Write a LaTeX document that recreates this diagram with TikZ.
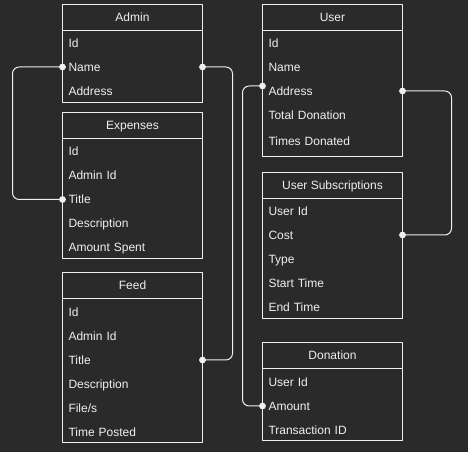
\documentclass[tikz,border=0pt]{standalone}
\usepackage{fontspec}
\setmainfont{Liberation Sans}
\usetikzlibrary{arrows.meta}
\definecolor{bgdark}{HTML}{2A2A2A}
\definecolor{fgline}{HTML}{F0F0F0}
\begin{document}
\begin{tikzpicture}[x=0.75pt,y=-0.75pt,line join=bevel,
  every node/.style={text=fgline,font=\fontsize{9}{11}\selectfont,text height=6.4pt,text depth=0pt},
  tabhead/.style={draw=fgline,line width=0.75pt,outer sep=0pt,minimum width=105pt,minimum height=19.5pt},
  tabbody/.style={draw=fgline,line width=0.75pt,outer sep=0pt,minimum width=105pt},
  tabrow/.style={outer sep=0pt,inner xsep=4.5pt,inner ysep=0pt,text width=96pt,align=left},
  link/.style={draw=fgline,line width=0.75pt,rounded corners=5pt,
    {Circle[length=5pt]}-{Circle[length=5pt]},shorten <=-2.5pt,shorten >=-2.5pt}]
\fill[bgdark] (0,0) rectangle (468,452);
%%
% Admin
\node (admin_head) at (132.5,17.5) [tabhead] {Admin};
\node (admin_body) at (132.5,66.5) [tabbody,minimum height=54pt] {};
\node (admin_id) at (132.5,43) [tabrow] {Id};
\node (admin_name) at (132.5,67) [tabrow] {Name};
\node (admin_address) at (132.5,91) [tabrow] {Address};
% Expenses
\node (expenses_head) at (132.5,125.5) [tabhead] {Expenses};
\node (expenses_body) at (132.5,198.5) [tabbody,minimum height=90pt] {};
\node (expenses_id) at (132.5,151.5) [tabrow] {Id};
\node (expenses_adminid) at (132.5,175.5) [tabrow] {Admin Id};
\node (expenses_title) at (132.5,199.5) [tabrow] {Title};
\node (expenses_desc) at (132.5,223.5) [tabrow] {Description};
\node (expenses_amount) at (132.5,247.5) [tabrow] {Amount Spent};
% Feed
\node (feed_head) at (132.5,285.5) [tabhead] {Feed};
\node (feed_body) at (132.5,370.5) [tabbody,minimum height=108pt] {};
\node (feed_id) at (132.5,312) [tabrow] {Id};
\node (feed_adminid) at (132.5,336) [tabrow] {Admin Id};
\node (feed_title) at (132.5,360) [tabrow] {Title};
\node (feed_desc) at (132.5,384) [tabrow] {Description};
\node (feed_files) at (132.5,408) [tabrow] {File/s};
\node (feed_posted) at (132.5,432) [tabrow] {Time Posted};
% User
\node (user_head) at (332.5,17.5) [tabhead] {User};
\node (user_body) at (332.5,93.5) [tabbody,minimum height=94.5pt] {};
\node (user_id) at (332.5,43) [tabrow] {Id};
\node (user_name) at (332.5,67) [tabrow] {Name};
\node (user_address) at (332.5,91) [tabrow] {Address};
\node (user_total) at (332.5,115) [tabrow] {Total Donation};
\node (user_times) at (332.5,141) [tabrow] {Times Donated};
% User Subscriptions
\node (subs_head) at (332.5,185.5) [tabhead] {User Subscriptions};
\node (subs_body) at (332.5,258.5) [tabbody,minimum height=90pt] {};
\node (subs_userid) at (332.5,211) [tabrow] {User Id};
\node (subs_cost) at (332.5,235) [tabrow] {Cost};
\node (subs_type) at (332.5,259) [tabrow] {Type};
\node (subs_start) at (332.5,283) [tabrow] {Start Time};
\node (subs_end) at (332.5,307) [tabrow] {End Time};
% Donation
\node (donation_head) at (332.5,355.5) [tabhead] {Donation};
\node (donation_body) at (332.5,404.5) [tabbody,minimum height=54pt] {};
\node (donation_userid) at (332.5,382) [tabrow] {User Id};
\node (donation_amount) at (332.5,406) [tabrow] {Amount};
\node (donation_txn) at (332.5,430) [tabrow] {Transaction ID};
%%
\draw [link] (admin_name.west) -- ++(-50,0) |- (expenses_title.west);
\draw [link] (admin_name.east) -- ++(30,0) |- (feed_title.east);
\draw [link] ([yshift=3.75pt]user_address.west) -- ++(-20,0) |- (donation_amount.west);
\draw [link] (user_address.east) -- ++(49,0) |- (subs_cost.east);
%
\end{tikzpicture}
\end{document}
